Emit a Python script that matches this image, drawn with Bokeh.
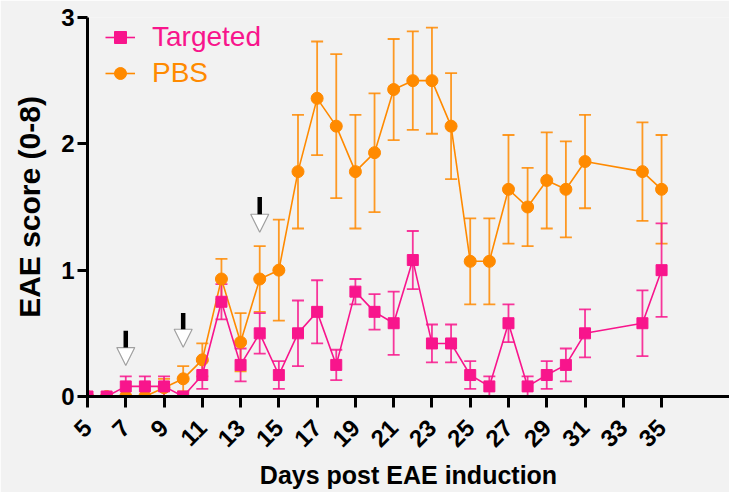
import math
from bokeh.plotting import figure
from bokeh.models import (ColumnDataSource, Range1d, FixedTicker, Whisker, TeeHead,
                          Legend, LegendItem, Arrow, NormalHead)
from bokeh.embed import file_html
from bokeh.resources import INLINE

# ---- data ----
days = [5, 6, 7, 8, 9, 10, 11, 12, 13, 14, 15, 16, 17, 18, 19, 20, 21, 22, 23, 24,
        25, 26, 27, 28, 29, 30, 31, 34, 35]
targeted = [0, 0, 0.08, 0.08, 0.08, 0, 0.17, 0.75, 0.25, 0.5, 0.17, 0.5, 0.67, 0.25,
            0.83, 0.67, 0.58, 1.08, 0.42, 0.42, 0.17, 0.08, 0.58, 0.08, 0.17, 0.25,
            0.5, 0.58, 1.0]
targeted_sem = [0, 0, 0.08, 0.08, 0.08, 0, 0.11, 0.14, 0.13, 0.16, 0.11, 0.26, 0.25,
                0.12, 0.1, 0.14, 0.25, 0.23, 0.15, 0.15, 0.11, 0.08, 0.15, 0.08, 0.11,
                0.13, 0.19, 0.26, 0.37]
pbs = [0, 0, 0, 0, 0.07, 0.14, 0.29, 0.93, 0.43, 0.93, 1.0, 1.78, 2.36, 2.14, 1.78,
       1.93, 2.43, 2.5, 2.5, 2.14, 1.07, 1.07, 1.64, 1.5, 1.71, 1.64, 1.86, 1.78, 1.64]
pbs_sem = [0, 0, 0, 0, 0.07, 0.1, 0.13, 0.16, 0.23, 0.26, 0.4, 0.45, 0.45, 0.57, 0.45,
           0.47, 0.4, 0.39, 0.42, 0.42, 0.34, 0.34, 0.43, 0.31, 0.38, 0.38, 0.37, 0.39,
           0.43]
x_ticks = [5, 7, 9, 11, 13, 15, 17, 19, 21, 23, 25, 27, 29, 31, 33, 35]
y_ticks = [0, 1, 2, 3]
arrow_days = [7, 10, 14]
arrow_top = [0.52, 0.66, 1.58]
arrow_tip = [0.245, 0.39, 1.30]

PINK = "#F8158C"
ORANGE = "#FF8A00"
BG = "#F2F2F2"
FONT = "Liberation Sans"

p = figure(width=729, height=492, output_backend="svg", toolbar_location=None,
           x_range=Range1d(5, 38.55), y_range=Range1d(0, 3),
           min_border_left=87, min_border_right=0, min_border_top=17,
           min_border_bottom=96)
p.background_fill_color = BG
p.border_fill_color = BG
p.outline_line_color = None
p.grid.visible = False

# axes
p.xaxis.ticker = FixedTicker(ticks=x_ticks)
p.yaxis.ticker = FixedTicker(ticks=y_ticks)
for ax in (p.xaxis, p.yaxis):
    ax.axis_line_width = 3
    ax.axis_line_color = "black"
    ax.major_tick_line_width = 3
    ax.major_tick_in = 0
    ax.minor_tick_line_color = None
    ax.major_label_text_font = FONT
    ax.major_label_text_font_style = "bold"
    ax.major_label_text_color = "black"
    ax.axis_label_text_font = FONT
    ax.axis_label_text_font_style = "bold"
    ax.axis_label_text_color = "black"
p.xaxis.major_tick_out = 11
p.yaxis.major_tick_out = 10
p.xaxis.major_label_orientation = math.pi / 4
p.xaxis.major_label_text_font_size = "24px"
p.yaxis.major_label_text_font_size = "24px"
p.xaxis.axis_label = "Days post EAE induction"
p.yaxis.axis_label = "EAE score (0-8)"
p.xaxis.axis_label_text_font_size = "25px"
p.yaxis.axis_label_text_font_size = "30px"
p.xaxis.major_label_standoff = 16
p.yaxis.major_label_standoff = 3
p.xaxis.axis_label_standoff = 4
p.yaxis.axis_label_standoff = 12

# sources
src_p = ColumnDataSource(dict(x=days, y=pbs,
                              lo=[v - e for v, e in zip(pbs, pbs_sem)],
                              hi=[v + e for v, e in zip(pbs, pbs_sem)]))
src_t = ColumnDataSource(dict(x=days, y=targeted,
                              lo=[v - e for v, e in zip(targeted, targeted_sem)],
                              hi=[v + e for v, e in zip(targeted, targeted_sem)]))

# PBS (drawn first)
wp = Whisker(source=src_p, base="x", lower="lo", upper="hi",
             line_color=ORANGE, line_width=1.8, line_alpha=0.85,
             upper_head=TeeHead(size=12, line_color=ORANGE, line_width=1.8, line_alpha=0.85),
             lower_head=TeeHead(size=12, line_color=ORANGE, line_width=1.8, line_alpha=0.85))
p.add_layout(wp)
lp = p.line("x", "y", source=src_p, line_color=ORANGE, line_width=1.6)
sp = p.scatter("x", "y", source=src_p, marker="circle", size=12,
               fill_color=ORANGE, line_color=ORANGE)

# Targeted
wt = Whisker(source=src_t, base="x", lower="lo", upper="hi",
             line_color=PINK, line_width=1.8, line_alpha=0.85,
             upper_head=TeeHead(size=12, line_color=PINK, line_width=1.8, line_alpha=0.85),
             lower_head=TeeHead(size=12, line_color=PINK, line_width=1.8, line_alpha=0.85))
p.add_layout(wt)
lt = p.line("x", "y", source=src_t, line_color=PINK, line_width=1.6)
st = p.scatter("x", "y", source=src_t, marker="square", size=11,
               fill_color=PINK, line_color=PINK)

# arrows (injection days)
for d, top, tip in zip(arrow_days, arrow_top, arrow_tip):
    p.add_layout(Arrow(x_start=d, y_start=top, x_end=d, y_end=tip,
                       line_color="black", line_width=4.5,
                       end=NormalHead(size=18, fill_color="white",
                                      line_color="#A0A0A0", line_width=1.2)))

# legends (two, for the two label colours)
def make_legend(label, renderers, color, loc):
    lg = Legend(items=[LegendItem(label=label, renderers=renderers)], location=loc)
    lg.label_text_font = FONT
    lg.label_text_font_size = "28px"
    lg.label_text_color = color
    lg.glyph_width = 30
    lg.glyph_height = 34
    lg.label_height = 34
    lg.label_standoff = 17
    lg.padding = 0
    lg.margin = 0
    lg.spacing = 0
    lg.border_line_color = None
    lg.background_fill_alpha = 0
    return lg

p.add_layout(make_legend("Targeted", [lt, st], PINK, (18, 342)))
p.add_layout(make_legend("PBS", [lp, sp], ORANGE, (18, 306)))

open("out.html", "w").write(file_html(p, INLINE))
